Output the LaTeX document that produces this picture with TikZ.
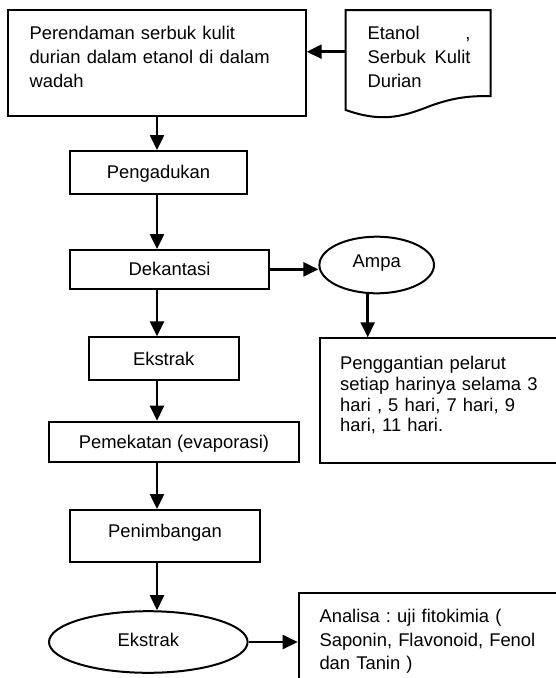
\documentclass[tikz,border=0pt]{standalone}
\usepackage{fontspec}
\setmainfont{Liberation Sans}
\usepackage{tikz}
\usetikzlibrary{arrows.meta,shapes.geometric}
\frenchspacing
\tikzstyle{flowChart} = [x = 1pt, y = -1pt, every node/.style={font=\fontsize{18.4}{24}\selectfont}]
\tikzstyle{boxStyle} = [draw=black, line width=2pt, rectangle, inner sep=0pt, text height=13.2pt, text depth=0pt]
\tikzstyle{ovalStyle} = [draw=black, line width=2pt, ellipse, inner sep=0pt, text height=13.2pt]
\tikzstyle{boxText} = [anchor=north west, inner sep=0pt, align=left]
\tikzstyle{flowArrow} = [line width=2.5pt, -{Triangle[length=15pt, width=14pt]}]
\newcommand{\processBox}[7][]{\node [boxStyle, minimum width=#5pt, minimum height=#6pt, #1] (#2) at (#3,#4) {#7};}
\newcommand{\ovalNode}[7][]{\node [ovalStyle, minimum width=#5pt, minimum height=#6pt, #1] (#2) at (#3,#4) {#7};}

\begin{document}
\begin{tikzpicture}[flowChart]
\useasboundingbox (0,0) rectangle (556,678);
\clip (0,0) rectangle (556,678);
\coordinate (spine) at (157,0);
% main column
\processBox{soaking}{157}{63}{297.4}{106}{}
\node [boxText, text width=270pt] (soakingText) at (29.3,26) {Perendaman serbuk kulit\\durian dalam etanol di dalam\\wadah};
\processBox[text depth=1pt]{stirring}{158.5}{172.5}{177}{43}{Pengadukan}
\processBox{decanting}{169.5}{269.35}{199}{38.7}{Dekantasi}
\processBox{extract}{163.7}{358.65}{150}{42.7}{Ekstrak}
\processBox{evaporation}{174}{441.7}{250}{40}{Pemekatan (evaporasi)}
\processBox[text depth=10pt]{weighing}{165}{535.85}{190}{51.7}{Penimbangan}
\ovalNode[text depth=4.6pt]{extractOval}{148.3}{642}{198.6}{61.6}{Ekstrak}
% side column
\node [inner sep=0pt, minimum width=145pt, minimum height=83.4pt] (material) at (418.2,51.7) {};
\draw [line width=2pt] (345.7,10) -- (490.7,10) -- (490.7,96) .. controls (470,96) and (455,97) .. (430,106) .. controls (400,118) and (380,122) .. (345.7,110) -- cycle;
\node [boxText, text width=103pt] (materialText) at (367.3,26) {Etanol\hfill,\\Serbuk\hfill Kulit\\Durian};
\ovalNode[text depth=8.6pt]{dregs}{376.7}{265}{114.6}{56.6}{Ampa}
\processBox[anchor=north west]{replacing}{319}{337.3}{260}{124.4}{}
\node [boxText, text width=220pt, font=\fontsize{18.4}{20.8}\selectfont] (replacingText) at (340,356) {Penggantian pelarut\\setiap harinya selama 3\\hari , 5 hari, 7 hari, 9\\hari, 11 hari.};
\processBox[anchor=north west]{analysis}{297.7}{591.7}{280}{120}{}
\node [boxText, text width=250pt, font=\fontsize{18.4}{23.5}\selectfont] (analysisText) at (319.3,609) {Analisa : uji fitokimia (\\Saponin, Flavonoid, Fenol\\dan Tanin )};
% arrows
\draw [flowArrow] (material.west) -- (material.west -| soaking.east);
\draw [flowArrow] (soaking.south -| spine) -- (stirring.north -| spine);
\draw [flowArrow] (stirring.south -| spine) -- (decanting.north -| spine);
\draw [flowArrow] (decanting.south -| spine) -- (extract.north -| spine);
\draw [flowArrow] (extract.south -| spine) -- (evaporation.north -| spine);
\draw [flowArrow] (evaporation.south -| spine) -- (weighing.north -| spine);
\draw [flowArrow] (weighing.south -| spine) -- (extractOval.north -| spine);
\draw [flowArrow] (decanting.east) -- (decanting.east -| dregs.west);
\draw [flowArrow] ([xshift=-9pt]dregs.south) -- ([xshift=-9pt]dregs.south |- replacing.north);
\draw [flowArrow] (extractOval.east) -- (extractOval.east -| analysis.west);
\end{tikzpicture}
\end{document}
